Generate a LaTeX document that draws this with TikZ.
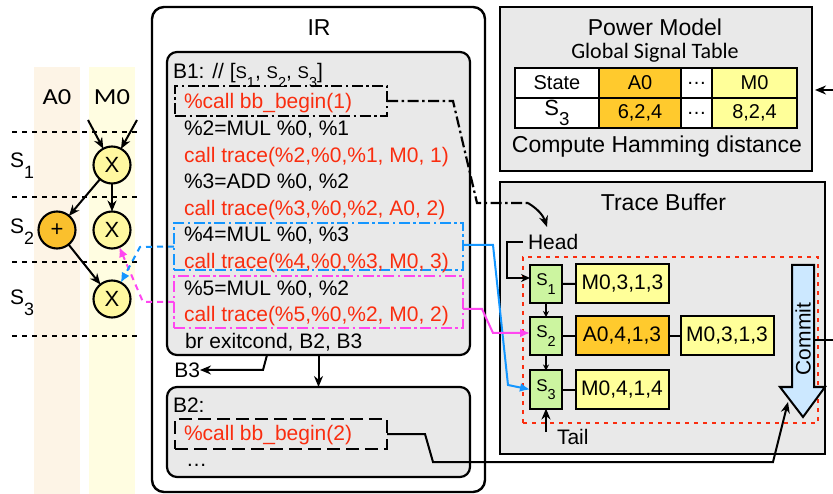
\documentclass[tikz,border=0pt]{standalone}
\usepackage{fontspec}
\usepackage{graphicx}
\setmainfont{Liberation Sans}
\newfontfamily\carlfont{Carlito}
\usetikzlibrary{arrows.meta,calc}

\definecolor{bandA}{RGB}{253,244,230}
\definecolor{bandM}{RGB}{255,253,225}
\definecolor{opYel}{RGB}{255,248,160}
\definecolor{opOra}{RGB}{250,192,45}
\definecolor{panel}{RGB}{233,233,233}
\definecolor{codeRed}{RGB}{250,45,15}
\definecolor{linkBlue}{RGB}{20,150,255}
\definecolor{linkMag}{RGB}{255,70,240}
\definecolor{cellYel}{RGB}{255,255,153}
\definecolor{cellOra}{RGB}{255,202,45}
\definecolor{slotGreen}{RGB}{204,245,160}
\definecolor{commitBlue}{RGB}{204,232,255}

% lowered, slightly smaller subscript as used for state names
\newcommand\lowsub[1]{\raisebox{-0.48em}{\scalebox{0.85}{#1}}}
\newcommand\hdrS[1]{{\fontsize{17}{17}\selectfont S\lowsub{#1}}}

\begin{document}
\begin{tikzpicture}[x=1pt,y=-1pt,
  every node/.style={inner sep=0pt, outer sep=0pt},
  fs/.style={font=\fontsize{#1}{#1}\selectfont},
  codeline/.style={anchor=base west, fs=21},
  redline/.style={codeline, text=codeRed},
  panelbox/.style={draw, line width=2.2pt, fill=panel},
  opnode/.style={circle, draw, line width=2.1pt, minimum size=37pt, fill=opYel, fs=22},
  dfgarrow/.style={-{Stealth[length=11pt,width=9pt]}, line width=2pt},
  gridline/.style={dash pattern=on 5pt off 5pt, line width=2.1pt},
  dotlink/.style={dash pattern=on 6pt off 5pt, line width=2pt, -{Latex[length=10pt,width=9pt]}},
  chaindash/.style={dash pattern=on 11pt off 3.5pt on 2.5pt off 3.5pt, line width=2.2pt},
  slotbox/.style={draw, line width=2pt, fill=slotGreen, minimum width=32pt, minimum height=38pt, fs=17},
  valbox/.style={draw, line width=2pt, minimum width=93pt, minimum height=39pt, fs=21},
  arr/.style={-{Stealth[length=11pt,width=9pt]}, line width=2pt},
  link/.style={line width=2pt, -{Latex[length=10pt,width=9pt]}},
  cell/.style={draw, line width=2.2pt, fs=20, minimum height=30pt},
  title/.style={anchor=base, fs=23},
]
\useasboundingbox (0,0) rectangle (833,494);

% ---------------- data-flow graph with state rows ----------------
\fill[bandA] (34,67) rectangle (80,494);
\fill[bandM] (89,67) rectangle (135,494);
\node[anchor=base, font=\carlfont\fontsize{23}{23}\selectfont] (colA) at (57,105) {\scalebox{1.15}[1]{A0}};
\node[anchor=base, font=\carlfont\fontsize{23}{23}\selectfont] (colM) at (112,105) {\scalebox{1.15}[1]{M0}};

\foreach \yy in {132,197,262,336} \draw[gridline] (12,\yy) -- (138,\yy);

\node[anchor=base west, fs=21] (st1) at (10,168) {S\lowsub{1}};
\node[anchor=base west, fs=21] (st2) at (10,234) {S\lowsub{2}};
\node[anchor=base west, fs=21] (st3) at (10,305) {S\lowsub{3}};

\node[opnode] (x1) at (112,165) {X};
\node[opnode] (x2) at (112,230) {X};
\node[opnode] (x3) at (112,299) {X};
\node[opnode, fill=opOra] (plus) at (57,230) {+};

\coordinate (in1) at (88,120);
\coordinate (in2) at (137,120);
\draw[dfgarrow] (in1) -- (x1);
\draw[dfgarrow] (in2) -- (x1);
\draw[dfgarrow] (x1) -- (plus);
\draw[dfgarrow] (x1) -- (x2);
\draw[dfgarrow] (plus) -- (x3);

% ---------------- IR ----------------
\node[draw, line width=2.4pt, rounded corners=12pt, fill=white, minimum width=333pt, minimum height=485pt] (ir) at (318.5,249.5) {};
\node[title] (irTitle) at (319,36) {IR};

\node[panelbox, rounded corners=10pt, minimum width=303pt, minimum height=303pt] (b1) at (318.5,203.5) {};
\node[panelbox, rounded corners=10pt, minimum width=303pt, minimum height=90pt] (b2) at (318.5,432) {};

\node[draw, chaindash, minimum width=212pt, minimum height=30pt] (bbA) at (281,101) {};
\node[draw=linkBlue, chaindash, minimum width=289pt, minimum height=47pt] (blu) at (318.5,246.5) {};
\node[draw=linkMag, chaindash, minimum width=289pt, minimum height=52pt] (mag) at (318.5,302) {};
\node[draw, dash pattern=on 13pt off 6pt, line width=2.2pt, minimum width=212pt, minimum height=30pt] (bbB) at (281,434) {};

\node[codeline] (hdr) at (173,79) {B1: // [\hdrS{1}, \hdrS{2}, \hdrS{3}]};
\node[redline]  (l0) at (184,109)   {\%call bb\_begin(1)};
\node[codeline] (l1) at (184,135.6) {\%2=MUL \%0, \%1};
\node[redline]  (l2) at (184,162.2) {call trace(\%2,\%0,\%1, M0, 1)};
\node[codeline] (l3) at (184,188.8) {\%3=ADD \%0, \%2};
\node[redline]  (l4) at (184,215.4) {call trace(\%3,\%0,\%2, A0, 2)};
\node[codeline] (l5) at (184,242)   {\%4=MUL \%0, \%3};
\node[redline]  (l6) at (184,268.6) {call trace(\%4,\%0,\%3, M0, 3)};
\node[codeline] (l7) at (184,295.2) {\%5=MUL \%0, \%2};
\node[redline]  (l8) at (184,321.8) {call trace(\%5,\%0,\%2, M0, 2)};
\node[codeline] (l9) at (185,348.4) {br exitcond, B2, B3};

\node[codeline] (b2hdr) at (173,413) {B2:};
\node[redline]  (l10) at (184,440) {\%call bb\_begin(2)};
\node[codeline] (l11) at (186,466) {\ldots};

\node[anchor=east, fs=21] (b3lbl) at (200,370) {B3};
\draw[arr] (b1) -- (b2);
\draw[arr] ([xshift=-51.5pt]b1.south) -- (263,370) -- (b3lbl.east);

% links from traced instructions back to the graph
\coordinate (magTurn) at (143,302);
\coordinate (bluTurn) at (140,247);
\draw[dotlink, linkMag] (mag.west) -- (magTurn) -- (x2);
\draw[dotlink, linkBlue] (blu.west) -- (bluTurn) -- (x3);

% ---------------- Power model ----------------
\node[panelbox, minimum width=312pt, minimum height=164pt] (pm) at (656,89) {};
\node[title] (pmTitle) at (655,36) {Power Model};
\node[anchor=base, font=\carlfont\fontsize{22}{22}\selectfont] (gst) at (655,59) {Global Signal Table};

\node[cell, fill=white,   minimum width=84pt] (cState) at (557,83) {State};
\node[cell, fill=cellOra, minimum width=82pt] (cA) at (640,83) {A0};
\node[cell, fill=white,   minimum width=31pt] (cDots) at (696.5,83) {\ldots};
\node[cell, fill=cellYel, minimum width=85pt] (cM) at (754.5,83) {M0};
\node[cell, fill=white,   minimum width=84pt] (rS) at (557,113) {\raisebox{0.3em}{\fontsize{22}{22}\selectfont S\lowsub{3}}};
\node[cell, fill=cellOra, minimum width=82pt] (rA) at (640,113) {6,2,4};
\node[cell, fill=white,   minimum width=31pt] (rDots) at (696.5,113) {\ldots};
\node[cell, fill=cellYel, minimum width=85pt] (rM) at (754.5,113) {8,2,4};

\node[anchor=base, fs=23] (ham) at (657,153) {Compute Hamming distance};

% ---------------- Trace buffer ----------------
\node[panelbox, minimum width=325pt, minimum height=272pt] (tb) at (662.5,318) {};
\node[title] (tbTitle) at (663.5,211) {Trace Buffer};
\node[draw=codeRed, dash pattern=on 4pt off 5pt, line width=2.8pt, minimum width=295pt, minimum height=166pt] (ring) at (670.5,340) {};

\filldraw[fill=commitBlue, line width=2pt]
  (792,265) -- (814,265) -- (814,387) -- (825,387) -- (803,417) -- (780,387) -- (792,387) -- cycle;
\node[fs=21, rotate=90] (commit) at (803,339) {Commit};
\coordinate (commitSide) at (814,340);
\coordinate (commitIn) at (788,402);

\node[slotbox] (s1) at (546,284) {S\lowsub{1}};
\node[slotbox] (s2) at (546,336) {S\lowsub{2}};
\node[slotbox] (s3) at (546,389.5) {S\lowsub{3}};

\node[valbox, fill=cellYel] (v1) at (622.5,283.5) {M0,3,1,3};
\node[valbox, fill=cellOra] (v2) at (622,336) {A0,4,1,3};
\node[valbox, fill=cellYel] (v3) at (727,336) {M0,3,1,3};
\node[valbox, fill=cellYel] (v4) at (622,389.5) {M0,4,1,4};

\draw[line width=2pt] (s1) -- (v1);
\draw[line width=2pt] (s2) -- (v2);
\draw[line width=2pt] (v2) -- (v3);
\draw[line width=2pt] (s3) -- (v4);
\draw[-{Stealth[length=6pt,width=6pt]}, line width=1.5pt] (s1) -- (s2);
\draw[-{Stealth[length=6pt,width=6pt]}, line width=1.5pt] (s2) -- (s3);

\node[anchor=base west, fs=21] (headlbl) at (528,250) {Head};
\draw[-{Stealth[length=9pt,width=8pt]}, line width=2pt]
  ([xshift=-5pt]headlbl.west) -- ++(-16,0) |- ([yshift=6pt]s1.west);

\node[anchor=base west, fs=21] (taillbl) at (557,444) {Tail};
\coordinate (tailIn) at (546,432);
\draw[arr] (tailIn) -- (s3);

% ---------------- connectors between panels ----------------
\coordinate (hBend) at (528,203);
\coordinate (headIn) at (547,227);
\draw[chaindash] (bbA.east) -- (453,101) -- (477,203) -- (hBend);
\draw[arr] (hBend) to[bend left=20] (headIn);

\draw[link, linkBlue] ([yshift=1.5pt]blu.east) -- (493,245) -- (508,385) -- (s3.west);
\draw[link, linkMag] ([yshift=-7pt]mag.east) -- (482,309) -- (493,333) -- ([yshift=3pt]s2.west);

\draw[arr] (bbB.east) -- (425,434) -- (433,462) -- (773,462) -- (commitIn);

\coordinate (commitOut) at (833,340);
\draw[line width=2pt] (commitSide) -- (commitOut);
\coordinate (pmIn) at (833,90);
\draw[arr, shorten >=3pt] (pmIn) -- (pmIn -| pm.east);
\end{tikzpicture}
\end{document}
